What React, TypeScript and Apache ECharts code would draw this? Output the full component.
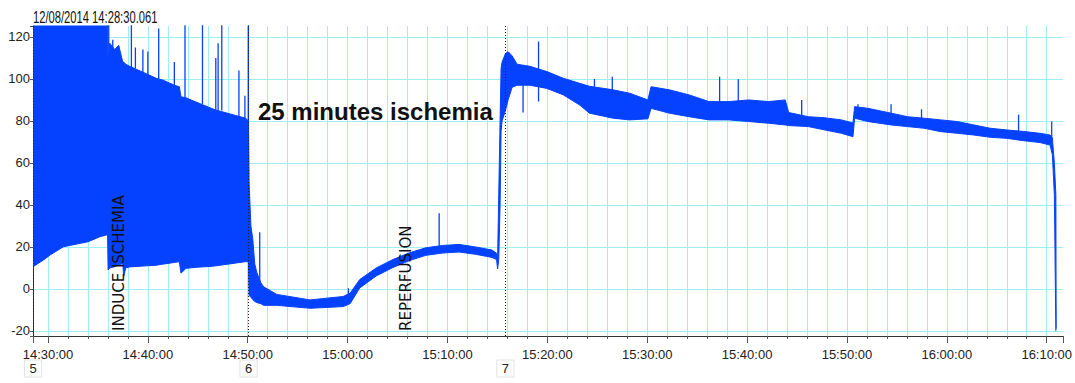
import React, { useEffect, useRef } from "react";
import * as echarts from "echarts";

// ---- data ----
const headerText = "12/08/2014 14:28:30.061";
const noteText = "25 minutes ischemia";
const axisStart = "14:28:30.061";
const axisEnd = "16:11:40";

// envelope of the dense pressure trace: time, lower edge, upper edge
const envTimes = [
  "14:28:30.061", "14:29:33", "14:30:13", "14:31:33", "14:34:02", "14:35:12", "14:35:52", "14:35:58",
  "14:36:01", "14:36:11", "14:36:41", "14:37:05", "14:37:29", "14:37:35", "14:37:47", "14:38:11",
  "14:39:50", "14:40:50", "14:41:29", "14:42:39", "14:43:09", "14:43:19", "14:43:49", "14:44:49",
  "14:46:28", "14:46:48", "14:49:47", "14:50:04",
  "14:50:08", "14:50:19", "14:50:30", "14:50:42", "14:50:54", "14:51:18", "14:51:36", "14:52:54",
  "14:56:15", "14:59:33", "15:00:15", "15:01:13", "15:02:52", "15:04:32", "15:06:11", "15:07:50",
  "15:09:30", "15:11:10", "15:12:49", "15:14:28", "15:14:55", "15:15:01", "15:15:08", "15:15:16",
  "15:15:22",
  "15:15:28", "15:15:48", "15:16:04", "15:16:28", "15:16:58", "15:18:15", "15:19:57", "15:21:36",
  "15:23:14", "15:24:13", "15:26:35", "15:28:14", "15:30:04", "15:30:23", "15:32:13", "15:34:12",
  "15:36:11", "15:38:11", "15:40:10", "15:42:09", "15:43:49", "15:44:10", "15:46:08", "15:47:47",
  "15:49:27", "15:50:36", "15:50:46", "15:52:06", "15:54:25", "15:56:04", "15:57:44", "15:59:24",
  "16:01:03", "16:02:42", "16:04:22", "16:06:01", "16:07:41", "16:09:20", "16:10:20", "16:10:34",
  "16:10:46", "16:10:55", "16:10:57",
];
const envLower = [
  10.6, 13.8, 16.2, 20.1, 22.5, 24.9, 25.7, 25.7,
  9, 10, 10.6, 11.5, 12, 6, 10, 10.5,
  11, 11.3, 11.8, 12.6, 13, 7.5, 9.8, 10.3,
  10.8, 11, 13, 13,
  -3, -4, -5, -6, -6.5, -7, -7.8, -7.8,
  -9.2, -8.4, -7, 0.5, 6.2, 10.2, 13.5, 16,
  17.1, 17.6, 16.5, 15, 14, 9.5, 14, 40,
  75,
  80, 85, 90, 96, 97, 97, 95.5, 92.4,
  87.6, 83.7, 81.3, 80.5, 81, 86, 83.7, 82,
  80.5, 80.5, 79.7, 78.9, 78.1, 77.8, 77.3, 75.7,
  74.1, 72.5, 81.3, 79.7, 78.1, 77.3, 76.5, 74.9,
  74.1, 73.3, 72.2, 71.7, 70.6, 69.7, 68.5, 64,
  45, -20, -20,
];
const envUpper = [
  126, 126, 126, 126, 126, 126, 126, 126,
  106, 117, 114, 116, 108, 108, 107, 106,
  102.5, 100.3, 99.5, 97, 96.3, 91.5, 91, 89,
  85.8, 85.2, 81.3, 80,
  51, 30, 24, 12, 8, 3, 1, -2.6,
  -5.2, -3.6, -2, 4.5, 10, 14, 17.2, 19.6,
  20.7, 21.2, 20, 18.5, 17, 14, 45, 80,
  105,
  108, 112, 113, 111, 107, 106, 103.5, 100.3,
  97.9, 96.5, 94.8, 93.2, 90, 96.3, 94.8, 92.4,
  89.2, 89.2, 90, 89.2, 90, 84, 82, 81.5,
  80.5, 79, 86.8, 86, 83.7, 82, 81.3, 80.5,
  79.7, 78.1, 76.5, 75.7, 75, 74.1, 73.3, 72,
  60, 45, -19,
];

// isolated spikes: time, value where it leaves the band, value it reaches
const spikeTimes = [
  "14:36:05", "14:36:29", "14:38:21", "14:38:45", "14:39:30", "14:40:00", "14:41:05", "14:42:39",
  "14:43:43", "14:45:28", "14:46:48", "14:47:02", "14:47:24", "14:49:07", "14:49:43", "14:50:04",
  "14:51:12", "15:00:05", "15:09:10", "15:17:34", "15:19:07", "15:24:43", "15:26:30", "15:37:15",
  "15:39:07", "15:45:28", "15:51:06", "15:54:25", "15:57:28", "16:07:11", "16:10:30",
];
const spikeFrom = [
  110, 112, 105, 105, 102, 101, 100, 96,
  90, 88, 85, 85, 85, 81, 80, 13,
  3, -6, 20, 97, 89.2, 95, 93, 88,
  88, 82, 85, 83, 81, 75, 72,
];
const spikeTo = [
  126, 118.6, 126, 115, 114, 113, 124, 108,
  126, 126, 110, 117, 126, 104, 92, 126,
  27, 0.3, 36, 84, 117.8, 100, 101, 101,
  99.8, 90, 88, 88, 85.6, 82.9, 79.7,
];

const markerTimes = ["14:28:30.061", "14:50:05", "15:15:48"];
const markerLabels = ["5", "6", "7"];
const eventTimes = ["14:37:05", "15:05:49"];
const eventLabels = ["INDUCE ISCHEMIA", "REPERFUSION"];

// ---- helpers ----
const MINUTE = 60000;
// clock string -> milliseconds of the day (integer)
function ms(s: string): number {
  const [h, m, rest] = s.split(":");
  return Math.round((+h * 3600 + +m * 60 + parseFloat(rest)) * 1000);
}
function pad(n: number): string {
  return (n < 10 ? "0" : "") + n;
}
function clock(v: number): string {
  const totalSec = Math.round(v / 1000);
  const h = Math.floor(totalSec / 3600);
  const m = Math.floor((totalSec % 3600) / 60);
  const s = totalSec % 60;
  return `${pad(h)}:${pad(m)}:${pad(s)}`;
}
function isMultiple(v: number, step: number): boolean {
  return Math.abs(v / step - Math.round(v / step)) < 1e-6;
}

const BLUE = "#0442ff";
const GRID = "#9eeff5";
const LABEL_FONT = '"Liberation Sans", Arial, sans-serif';

export default function App() {
  const ref = useRef<HTMLDivElement>(null);
  useEffect(() => {
    if (!ref.current) return;
    const chart = echarts.init(ref.current, undefined, { renderer: "svg" });

    // value first, time second, so that stacking acts on the value dimension
    const lowerData = envTimes.map((t, i) => [envLower[i], ms(t)]);
    const bandData = envTimes.map((t, i) => [envUpper[i] - envLower[i], ms(t)]);
    const spikeData: any[] = [];
    spikeTimes.forEach((t, i) => {
      spikeData.push([ms(t), spikeFrom[i]]);
      spikeData.push([ms(t), spikeTo[i]]);
      spikeData.push([ms(t), "-"]);
    });

    // a fraction of a pixel of margin so the marker at the very start stays inside the axis
    const x0 = ms(axisStart) - 200;
    const x1 = ms(axisEnd);

    const markerData = [
      ...markerTimes.map((t, i) => ({
        xAxis: ms(t),
        lineStyle: { color: "#222", type: [1, 2], width: 1 },
        label: {
          show: true,
          position: "start",
          formatter: markerLabels[i],
          distance: 24,
          fontFamily: LABEL_FONT,
          fontSize: 13,
          color: "#222",
          borderColor: "#e2e2e2",
          borderWidth: 1,
          padding: [2, 5, 2, 5],
        },
      })),
      ...eventTimes.map((t, i) => ({
        xAxis: ms(t),
        lineStyle: { color: "rgba(0,0,0,0)", width: 0 },
        label: {
          show: true,
          position: "insideStart",
          formatter: eventLabels[i],
          distance: 5,
          fontFamily: '"DejaVu Sans", Verdana, sans-serif',
          fontSize: 15,
          color: "#111",
        },
      })),
    ];

    const option: any = {
      animation: false,
      backgroundColor: "#ffffff",
      grid: { left: 33, right: 5, top: 26, bottom: 47, containLabel: false },
      xAxis: [
        {
          type: "value",
          min: x0,
          max: x1,
          splitNumber: 50,
          minInterval: 2 * MINUTE,
          maxInterval: 2 * MINUTE,
          axisLine: { show: true, onZero: false, lineStyle: { color: "#333", width: 1 } },
          axisTick: { show: true, length: 3, lineStyle: { color: "#555" } },
          axisLabel: { show: false },
          splitLine: {
            show: true,
            showMinLine: false,
            showMaxLine: false,
            lineStyle: { color: GRID, width: 1 },
          },
        },
        {
          type: "value",
          min: x0,
          max: x1,
          splitNumber: 10,
          minInterval: 10 * MINUTE,
          maxInterval: 10 * MINUTE,
          position: "bottom",
          axisLine: { show: false, onZero: false },
          axisTick: { show: true, length: 7, lineStyle: { color: "#555" } },
          axisLabel: {
            formatter: (v: number) => (isMultiple(v, 10 * MINUTE) ? clock(v) : ""),
            fontFamily: LABEL_FONT,
            fontSize: 13,
            color: "#222",
            margin: 12,
            hideOverlap: false,
          },
          splitLine: { show: false },
        },
      ],
      yAxis: {
        type: "value",
        min: -22.4,
        max: 125.2,
        splitNumber: 7,
        axisLine: { show: true, onZero: false, lineStyle: { color: "#333", width: 1 } },
        axisTick: { show: true, length: 3, lineStyle: { color: "#555" } },
        axisLabel: {
          formatter: (v: number) => (isMultiple(v, 20) ? String(Math.round(v)) : ""),
          fontFamily: LABEL_FONT,
          fontSize: 13,
          color: "#222",
          margin: 3,
        },
        splitLine: {
          show: true,
          showMinLine: false,
          showMaxLine: false,
          lineStyle: { color: GRID, width: 1 },
        },
      },
      graphic: [
        {
          type: "text",
          x: 33,
          y: 17.5,
          scaleX: 0.7,
          style: {
            text: headerText,
            font: `16px ${LABEL_FONT}`,
            fill: "#111",
            align: "left",
            verticalAlign: "middle",
          },
        },
        {
          type: "text",
          x: 258,
          y: 111,
          z: 100,
          style: {
            text: noteText,
            font: 'bold 24px "Liberation Sans", Arial, sans-serif',
            fill: "#111",
            align: "left",
            verticalAlign: "middle",
          },
        },
      ],
      series: [
        {
          type: "line",
          xAxisIndex: 0,
          stack: "env",
          stackStrategy: "all",
          encode: { x: 1, y: 0 },
          data: lowerData,
          symbol: "none",
          lineStyle: { color: BLUE, width: 1 },
          itemStyle: { color: BLUE },
          z: 2,
        },
        {
          type: "line",
          xAxisIndex: 0,
          stack: "env",
          stackStrategy: "all",
          encode: { x: 1, y: 0 },
          data: bandData,
          symbol: "none",
          lineStyle: { color: BLUE, width: 1 },
          itemStyle: { color: BLUE },
          areaStyle: { color: BLUE, opacity: 1 },
          z: 2,
        },
        {
          type: "line",
          xAxisIndex: 0,
          data: spikeData,
          symbol: "none",
          connectNulls: false,
          lineStyle: { color: BLUE, width: 1.3 },
          itemStyle: { color: BLUE },
          z: 3,
        },
        {
          type: "line",
          xAxisIndex: 0,
          data: [],
          clip: false,
          symbol: "none",
          z: 4,
          markLine: {
            silent: true,
            symbol: ["none", "none"],
            animation: false,
            data: markerData,
          },
        },
      ],
    };

    chart.setOption(option);
    return () => chart.dispose();
  }, []);

  return (
    <div
      ref={ref}
      style={{ position: "absolute", left: 0, top: 0, width: 1075, height: 383, background: "#fff" }}
    />
  );
}
